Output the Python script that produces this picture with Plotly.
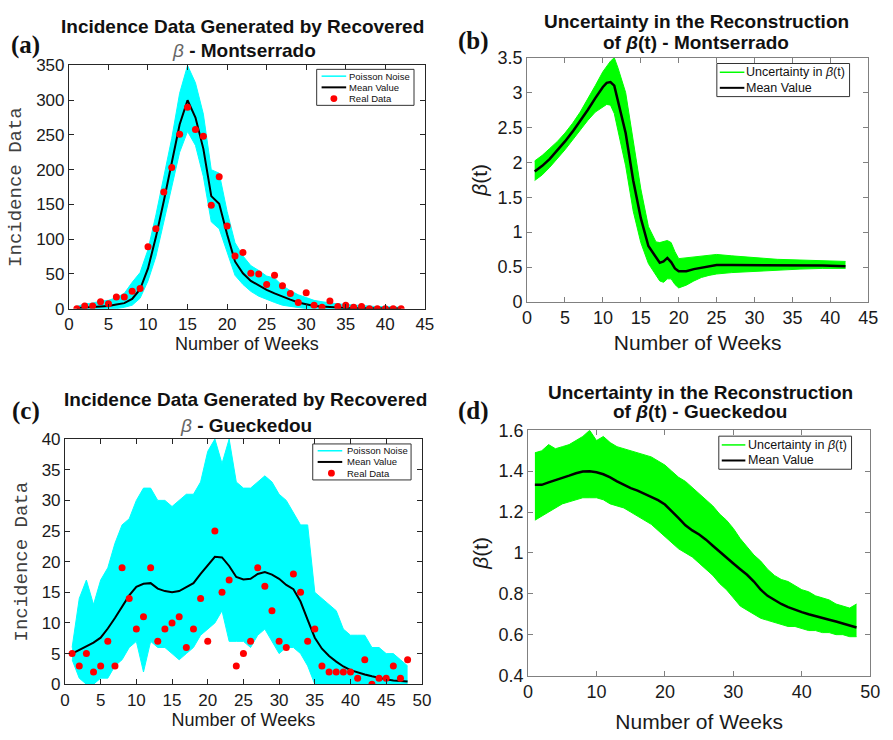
import plotly.graph_objects as go

W, H = 893, 740

# ---------------- data ----------------
# (a) Montserrado incidence
weeks_a = list(range(1, 43))
real_a = [0, 4, 4, 10, 7, 17, 17, 25, 29, 89, 115, 168, 203, 251, 290, 258, 248, 149, 190, 119,
          76, 81, 51, 50, 35, 48, 33, 22, 9, 23, 5, 2, 11, 3, 5, 2, 3, 0, 0, 0, 0, 0]
mean_a = [1, 1.5, 2, 3, 4, 6, 8, 14, 28, 58, 103, 155, 210, 265, 300, 275, 230, 162, 151, 107,
          68, 51, 40, 33, 27, 22, 17, 13, 9, 6, 4, 3, 2, 1.5, 1, 0.8, 0.6, 0.5, 0.4, 0.3, 0.3, 0.2]
upper_a = [3, 7, 8, 11, 12, 16, 22, 38, 52, 85, 135, 190, 245, 310, 350, 325, 280, 200, 195, 140,
           95, 76, 62, 55, 47, 44, 33, 26, 20, 16, 12, 10, 8, 7, 6, 5, 4, 4, 3, 3, 3, 2]
lower_a = [0, 0, 0, 0, 0, 0, 2, 5, 15, 40, 75, 125, 175, 225, 255, 235, 190, 125, 115, 80,
           48, 35, 25, 18, 13, 9, 5, 3, 1, 0, 0, 0, 0, 0, 0, 0, 0, 0, 0, 0, 0, 0]

# (b) Montserrado beta(t)
weeks_b = [1, 2, 3, 4, 5, 6, 7, 8, 9, 10, 10.5, 11, 11.5, 12, 13, 14, 15, 16, 17, 17.5, 18, 18.5,
           19, 19.5, 20, 21, 22, 23, 24, 25, 27, 30, 33, 36, 39, 42]
mean_b = [1.87, 1.95, 2.05, 2.17, 2.30, 2.44, 2.59, 2.75, 2.92, 3.08, 3.14, 3.15, 3.10, 2.88,
          2.42, 1.74, 1.20, 0.80, 0.63, 0.56, 0.58, 0.63, 0.57, 0.48, 0.44, 0.44, 0.47, 0.49,
          0.51, 0.53, 0.53, 0.53, 0.53, 0.53, 0.52, 0.51]
upper_b = [2.02, 2.10, 2.20, 2.30, 2.42, 2.56, 2.72, 2.90, 3.10, 3.30, 3.38, 3.45, 3.50, 3.35,
           3.00, 2.30, 1.62, 1.08, 0.86, 0.85, 0.87, 0.88, 0.85, 0.72, 0.62, 0.63, 0.64, 0.65,
           0.67, 0.68, 0.66, 0.63, 0.61, 0.60, 0.59, 0.58]
lower_b = [1.74, 1.82, 1.93, 2.05, 2.18, 2.32, 2.46, 2.60, 2.72, 2.80, 2.83, 2.82, 2.70, 2.45,
           1.95, 1.30, 0.85, 0.55, 0.38, 0.30, 0.28, 0.33, 0.33, 0.25, 0.20, 0.24, 0.30, 0.35,
           0.38, 0.40, 0.42, 0.44, 0.46, 0.47, 0.48, 0.48]

# (c) Gueckedou incidence
weeks_c = list(range(1, 49))
real_c = [5, 3, 5, 2, 3, 7, 3, 19, 14, 9, 11, 19, 7, 9, 10, 11, 6, 9, 14, 7, 25, 15, 17, 3,
          5, 7, 19, 16, 12, 7, 6, 18, 15, 7, 9, 3, 2, 2, 2, 2, 1, 4, 0, 1, 1, 3, 1, 4]
mean_c = [5.0, 5.6, 6.1, 6.8, 7.6, 9.1, 10.8, 12.7, 14.5, 15.9, 16.4, 16.5, 15.6, 15.2, 15.0,
          15.2, 15.8, 16.5, 18.0, 19.5, 20.8, 20.7, 19.3, 17.5, 17.1, 17.2, 18.0, 18.3, 17.9,
          17.2, 16.2, 15.5, 13.5, 10.5, 7.6, 5.8, 4.6, 3.7, 2.9, 2.3, 1.9, 1.6, 1.3, 1.0, 0.8,
          0.6, 0.5, 0.45]
upper_c = [6, 14, 17, 13, 17, 19, 23, 26, 27, 30, 32, 32, 30, 30, 29, 30, 31, 31, 33, 38, 40,
           36, 40, 33, 32, 32, 33, 34, 33, 31, 30, 28, 26, 26, 15, 14, 13, 12, 9, 8, 8, 8, 6, 6,
           5, 5, 4, 3]
lower_c = [4, 1, 0, 0, 1, 1, 3, 4, 6, 7, 2, 7, 6, 6, 5, 4, 5, 6, 8, 9, 10, 12, 7, 7, 7, 6, 8,
           9, 7, 5, 6, 6, 5, 3, 0, 0, 0, 0, 0, 0, 0, 0, 0, 0, 0, 0, 0, 0]

# (d) Gueckedou beta(t)
weeks_d = list(range(1, 49))
mean_d = [1.333, 1.333, 1.345, 1.355, 1.365, 1.378, 1.390, 1.398, 1.400, 1.395, 1.385, 1.370,
          1.350, 1.333, 1.317, 1.305, 1.290, 1.275, 1.258, 1.237, 1.205, 1.170, 1.135, 1.110,
          1.090, 1.065, 1.035, 1.005, 0.975, 0.948, 0.920, 0.893, 0.860, 0.820, 0.790, 0.768,
          0.750, 0.735, 0.722, 0.710, 0.700, 0.692, 0.682, 0.673, 0.664, 0.655, 0.645, 0.635]
upper_d = [1.49, 1.50, 1.53, 1.51, 1.52, 1.53, 1.55, 1.57, 1.60, 1.55, 1.57, 1.54, 1.52, 1.51,
           1.50, 1.49, 1.48, 1.47, 1.45, 1.43, 1.40, 1.37, 1.35, 1.32, 1.29, 1.26, 1.23, 1.19,
           1.16, 1.12, 1.07, 1.03, 0.99, 0.96, 0.92, 0.89, 0.87, 0.86, 0.84, 0.82, 0.81, 0.79,
           0.78, 0.77, 0.75, 0.74, 0.73, 0.75]
lower_d = [1.16, 1.18, 1.20, 1.22, 1.24, 1.25, 1.26, 1.27, 1.27, 1.27, 1.26, 1.24, 1.23, 1.22,
           1.20, 1.18, 1.16, 1.14, 1.11, 1.08, 1.05, 1.02, 1.00, 0.98, 0.95, 0.92, 0.89, 0.85,
           0.82, 0.78, 0.74, 0.72, 0.70, 0.68, 0.67, 0.66, 0.65, 0.64, 0.64, 0.63, 0.62, 0.62,
           0.61, 0.61, 0.60, 0.60, 0.59, 0.59]

# ---------------- figure ----------------
CYAN = '#00FFFF'
GREEN = '#00FF00'
RED = '#FF0000'


def px(x):
    return x / W


def py(y):
    return 1 - y / H


fig = go.Figure()


def band(xs, lo, hi, color, xa, ya, name):
    fig.add_trace(go.Scatter(x=xs, y=lo, mode='lines', line=dict(color=color, width=1),
                             xaxis=xa, yaxis=ya, showlegend=False, hoverinfo='skip'))
    fig.add_trace(go.Scatter(x=xs, y=hi, mode='lines', line=dict(color=color, width=1),
                             fill='tonexty', fillcolor=color, xaxis=xa, yaxis=ya,
                             name=name, showlegend=False))


def meanline(xs, ys, xa, ya, w=2):
    fig.add_trace(go.Scatter(x=xs, y=ys, mode='lines', line=dict(color='black', width=w),
                             xaxis=xa, yaxis=ya, name='Mean Value', showlegend=False))


def dots(xs, ys, xa, ya):
    fig.add_trace(go.Scatter(x=xs, y=ys, mode='markers', marker=dict(color=RED, size=7),
                             xaxis=xa, yaxis=ya, name='Real Data', showlegend=False))


band(weeks_a, lower_a, upper_a, CYAN, 'x', 'y', 'Poisson Noise')
meanline(weeks_a, mean_a, 'x', 'y')
dots(weeks_a, real_a, 'x', 'y')

band(weeks_b, lower_b, upper_b, GREEN, 'x2', 'y2', 'Uncertainty in β(t)')
meanline(weeks_b, mean_b, 'x2', 'y2', 2.5)

band(weeks_c, lower_c, upper_c, CYAN, 'x3', 'y3', 'Poisson Noise')
meanline(weeks_c, mean_c, 'x3', 'y3')
dots(weeks_c, real_c, 'x3', 'y3')

band(weeks_d, lower_d, upper_d, GREEN, 'x4', 'y4', 'Uncertainty in β(t)')
meanline(weeks_d, mean_d, 'x4', 'y4', 2.5)


def ax(domain, rng, dtick, anchor, linecolor, fsize, title=None, tfont=None, standoff=None):
    d = dict(domain=domain, range=rng, dtick=dtick, tick0=rng[0], anchor=anchor,
             showline=True, linecolor=linecolor, linewidth=1, mirror='ticks',
             ticks='inside', ticklen=5, tickcolor=linecolor, showgrid=False, zeroline=False,
             tickfont=dict(family='Arial', size=fsize, color='#1a1a1a'))
    if title is not None:
        d['title'] = dict(text=title, font=tfont, standoff=standoff)
    return d


XT = 'Number of Weeks'
YT_inc = 'Incidence Data'
YT_beta = '<i>β</i>(t)'
f_x_small = dict(family='Arial', size=18, color='#1a1a1a')
f_x_big = dict(family='Arial', size=21, color='#1a1a1a')
f_y_inc = dict(family='Liberation Mono, Courier New, monospace', size=19, color='#404040')
f_y_beta = dict(family='Arial', size=21, color='#1a1a1a')

DARK = '#262626'
GRAY = '#808080'

layout = dict(
    width=W, height=H, margin=dict(l=0, r=0, t=0, b=0),
    paper_bgcolor='white', plot_bgcolor='white', showlegend=False,
    xaxis=ax([px(65), px(427)], [0, 45], 5, 'y', DARK, 17, XT, f_x_small, 4),
    yaxis=ax([py(307), py(57)], [0, 350], 50, 'x', DARK, 17, YT_inc, f_y_inc, 9),
    xaxis2=ax([px(531), px(878)], [0, 45], 5, 'y2', GRAY, 18, XT, f_x_big, 7),
    yaxis2=ax([py(300), py(49)], [0, 3.5], 0.5, 'x2', GRAY, 18, YT_beta, f_y_beta, 4),
    xaxis3=ax([px(61), px(424)], [0, 50], 5, 'y3', DARK, 17, XT, f_x_small, 4),
    yaxis3=ax([py(693), py(441)], [0, 40], 5, 'x3', DARK, 17, YT_inc, f_y_inc, 8),
    xaxis4=ax([px(532), px(880)], [0, 50], 10, 'y4', GRAY, 18, XT, f_x_big, 13),
    yaxis4=ax([py(684), py(432)], [0.4, 1.6], 0.2, 'x4', GRAY, 18, YT_beta, f_y_beta, 4),
)
fig.update_layout(**layout)

annotations = []
shapes = []


def text(x, y, s, size, family='Arial', xanchor='center', color='#111111'):
    annotations.append(dict(x=px(x), y=py(y), xref='paper', yref='paper', text=s,
                            showarrow=False, xanchor=xanchor, yanchor='middle', borderpad=0,
                            font=dict(family=family, size=size, color=color)))


# titles
TF = 'Arial'
TS = 19
text(242, 17, '<b>Incidence Data Generated by Recovered</b>', TS, TF)
text(243, 42, "<span style='color:#666'><i>β</i></span><b> - Montserrado</b>", TS, TF)
text(703, 12, '<b>Uncertainty in the Reconstruction</b>', TS, TF)
text(703, 33, '<b>of <i>β</i>(t) - Montserrado</b>', TS, TF)
text(245, 400, '<b>Incidence Data Generated by Recovered</b>', TS, TF)
text(245, 427, "<span style='color:#666'><i>β</i></span><b> - Gueckedou</b>", TS, TF)
text(707, 393, '<b>Uncertainty in the Reconstruction</b>', TS, TF)
text(707, 413, '<b>of <i>β</i>(t) - Gueckedou</b>', TS, TF)

# panel labels
PL = 'Liberation Serif, Times New Roman, serif'
text(21, 36, '<b>(a)</b>', 25, PL)
text(476, 32, '<b>(b)</b>', 25, PL)
text(21, 412, '<b>(c)</b>', 25, PL)
text(476, 412, '<b>(d)</b>', 25, PL)


# legends
def legend(box, items, fsize):
    x0, y0, x1, y1 = box
    shapes.append(dict(type='rect', xref='paper', yref='paper', x0=px(x0), x1=px(x1),
                       y0=py(y1), y1=py(y0), line=dict(color='#333333', width=1),
                       fillcolor='white', layer='above'))
    for kind, color, lx0, lx1, ly, tx, label in items:
        if kind == 'line':
            shapes.append(dict(type='line', xref='paper', yref='paper', x0=px(lx0), x1=px(lx1),
                               y0=py(ly), y1=py(ly),
                               line=dict(color=color, width=2 if color == 'black' else 1.5),
                               layer='above'))
        else:
            cx = (lx0 + lx1) / 2
            shapes.append(dict(type='circle', xref='paper', yref='paper', x0=px(cx - 3.5),
                               x1=px(cx + 3.5), y0=py(ly + 3.5), y1=py(ly - 3.5),
                               fillcolor=color, line=dict(color=color, width=0), layer='above'))
        text(tx, ly, label, fsize, 'Arial', 'left', '#111111')


legend((317, 61, 416, 98), [
    ('line', CYAN, 322, 347, 68, 349, 'Poisson Noise'),
    ('line', 'black', 322, 347, 79.5, 349, 'Mean Value'),
    ('dot', RED, 322, 347, 91, 349, 'Real Data'),
], 9.5)
legend((724, 55, 859, 89), [
    ('line', GREEN, 727, 752, 64, 753, 'Uncertainty in <i>β</i>(t)'),
    ('line', 'black', 727, 752, 80, 753, 'Mean Value'),
], 12.5)
legend((313, 446, 413, 483), [
    ('line', CYAN, 318, 343, 453, 347, 'Poisson Noise'),
    ('line', 'black', 318, 343, 464.5, 347, 'Mean Value'),
    ('dot', RED, 318, 346, 476, 347, 'Real Data'),
], 9.5)
legend((726, 438, 861, 472), [
    ('line', GREEN, 729, 753, 447, 755, 'Uncertainty in <i>β</i>(t)'),
    ('line', 'black', 729, 753, 463, 755, 'Mean Value'),
], 12.5)

fig.update_layout(annotations=annotations, shapes=shapes)
fig.write_html('out.html')
